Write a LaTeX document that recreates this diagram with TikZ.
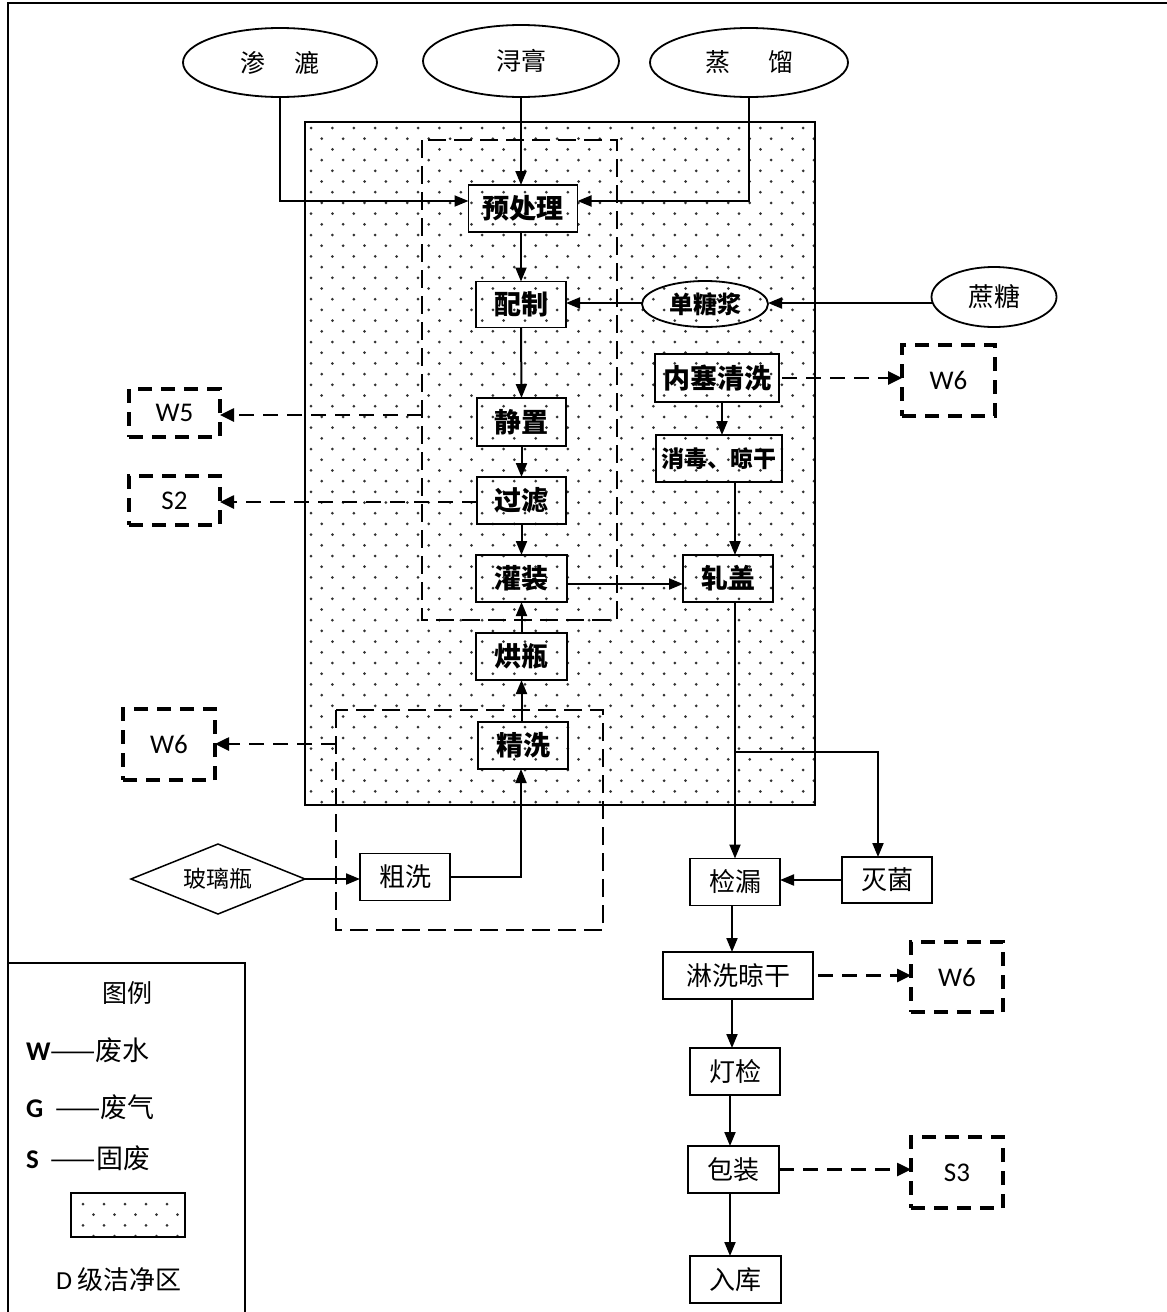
\documentclass[tikz,border=0pt]{standalone}
\usepackage{fontspec}
\setmainfont{Liberation Serif}
\newfontfamily\cjk{Noto Sans CJK SC}
\newfontfamily\lat{Carlito}
\usetikzlibrary{shapes.geometric,arrows.meta}
\tikzset{
  base/.style={inner sep=0pt, outer sep=0pt},
  pbox/.style={base, draw, line width=1.8pt, font=\cjk\bfseries\fontsize{27}{27}\selectfont},
  lbox/.style={base, draw, line width=1.8pt, font=\cjk\fontsize{26}{26}\selectfont},
  ell/.style={base, draw, ellipse, line width=1.8pt, font=\cjk\fontsize{25}{25}\selectfont},
  dbox/.style={base, draw, line width=3.6pt, dash pattern=on 14pt off 9pt, font=\lat\fontsize{27}{27}\selectfont},
  arr/.style={line width=2pt, -{Triangle[length=14pt,width=11pt]}},
  darr/.style={line width=2.6pt, dash pattern=on 15pt off 9pt, -{Triangle[length=14pt,width=13pt]}},
  zone/.style={line width=2.4pt, dash pattern=on 18pt off 8pt},
  dotc/.style={fill=black!80},
  legtext/.style={base, anchor=west, font=\cjk\fontsize{27}{27}\selectfont},
}
\begin{document}
\begin{tikzpicture}[x=1pt,y=-1pt]
\useasboundingbox (0,0) rectangle (1167,1312);
% outer frame
\draw[line width=2.6pt] (8,1312) -- (8,3) -- (1167,3);
% clean zone dots
\begin{scope}
\clip (305,122) rectangle (815,805);
\foreach \j in {0,...,63}{
  \pgfmathsetmacro\myoff{mod(\j,2)*10.7}
  \foreach \i in {0,...,23}{
    \fill[dotc] ({311+\myoff+21.4*\i},{128+10.7*\j}) circle[radius=1.5];
  }
}
\end{scope}
\draw[line width=1.6pt] (305,122) rectangle (815,805);
\draw[zone] (422,140) rectangle (617,620);
\draw[zone] (336,710) rectangle (603,930);

% top ellipses
\node[ell, minimum width=194pt, minimum height=69pt] (sl) at (280,62.5) {\raisebox{-5pt}{渗\hspace{29pt}漉}};
\node[ell, minimum width=196pt, minimum height=72pt] (xg) at (521,61) {浔膏};
\node[ell, minimum width=198pt, minimum height=69pt] (zl) at (749,62.5) {\raisebox{-3pt}{蒸\hspace{38pt}馏}};

% process boxes (clean zone)
\node[pbox, minimum width=109pt, minimum height=47pt] (pre) at (523,208.5) {预处理};
\node[pbox, minimum width=90pt, minimum height=46pt] (pz) at (521,304.5) {配制};
\node[pbox, minimum width=89pt, minimum height=48pt] (jz) at (521.5,422) {静置};
\node[pbox, minimum width=89pt, minimum height=47pt] (gl) at (521.5,500.5) {过滤};
\node[pbox, minimum width=91pt, minimum height=47pt] (gz) at (521.5,578.5) {灌装};
\node[pbox, minimum width=91pt, minimum height=47pt] (hp) at (521.5,656.5) {烘瓶};
\node[pbox, minimum width=90pt, minimum height=47pt] (jx) at (523,745.5) {精洗};
\node[pbox, minimum width=124pt, minimum height=48pt] (nsq) at (717,378) {内塞清洗};
\node[pbox, minimum width=126pt, minimum height=47pt, font=\cjk\bfseries\fontsize{23}{23}\selectfont] (xd) at (719,458.5) {消毒、晾干};
\node[pbox, minimum width=90pt, minimum height=47pt] (zg) at (728,578.5) {轧盖};
\node[ell, font=\cjk\bfseries\fontsize{24}{24}\selectfont, minimum width=126pt, minimum height=46pt] (dtj) at (705,304) {单糖浆};
\node[ell, minimum width=125pt, minimum height=60pt, font=\cjk\fontsize{26}{26}\selectfont] (zt) at (994,297) {蔗糖};

% outside boxes
\node[lbox, minimum width=90pt, minimum height=47pt] (cx) at (405,877) {粗洗};
\node[lbox, minimum width=90pt, minimum height=47pt] (jl) at (735,882) {检漏};
\node[lbox, minimum width=90pt, minimum height=46pt] (mj) at (887,880) {灭菌};
\node[lbox, minimum width=150pt, minimum height=47pt] (lx) at (738,975.5) {淋洗晾干};
\node[lbox, minimum width=90pt, minimum height=47pt] (dj) at (735,1071.5) {灯检};
\node[lbox, minimum width=91pt, minimum height=47pt] (bz) at (733.5,1169.5) {包装};
\node[lbox, minimum width=91pt, minimum height=47pt] (rk) at (735.5,1279.5) {入库};
\node[base, draw, diamond, aspect=2.5, line width=1.5pt, minimum width=174pt, minimum height=70pt, font=\cjk\fontsize{23}{23}\selectfont] (bl) at (218,879) {玻璃瓶};

% waste boxes
\node[dbox, minimum width=93pt, minimum height=71pt] (w6a) at (948.5,380.5) {W6};
\node[dbox, minimum width=91pt, minimum height=48pt] (w5) at (174.5,413) {W5};
\node[dbox, minimum width=91pt, minimum height=49pt] (s2) at (174.5,500.5) {S2};
\node[dbox, minimum width=92pt, minimum height=71pt] (w6b) at (169,744.5) {W6};
\node[dbox, minimum width=92pt, minimum height=70pt] (w6c) at (957,977) {W6};
\node[dbox, minimum width=92pt, minimum height=71pt] (s3) at (957,1172.5) {S3};

% helper coordinates
\coordinate (ya) at (0,201);
\coordinate (yb) at (0,303);
\coordinate (xc) at (521,0);
\coordinate (xn) at (722,0);
\coordinate (xz) at (735,0);
\coordinate (yg) at (0,584);
\coordinate (ybr) at (0,752);
\coordinate (xm) at (878,0);
\coordinate (xl) at (732,0);
\coordinate (xb) at (730,0);
\coordinate (z1) at (422,415);
\coordinate (ys2) at (0,502);
\coordinate (z2) at (336,744);

% solid connectors
\draw[arr] (sl.south) |- (pre.west |- ya);
\draw[arr] (xg.south) -- (xg.south |- pre.north);
\draw[arr] (zl.south) |- (pre.east |- ya);
\draw[arr] (pz.north |- pre.south) -- (pz.north);
\draw[arr] (zt.west |- yb) -- (dtj.east |- yb);
\draw[arr] (dtj.west |- yb) -- (pz.east |- yb);
\draw[arr] (pz.south) -- (jz.north);
\draw[arr] (jz.south) -- (gl.north);
\draw[arr] (gl.south) -- (gz.north);
\draw[arr] (hp.north) -- (gz.south);
\draw[arr] (hp.south |- jx.north) -- (hp.south);
\draw[arr] (cx.east) -| (jx.south -| xc);
\draw[arr] (bl.east) -- (cx.west |- bl.east);
\draw[arr] (nsq.south -| xn) -- (xd.north -| xn);
\draw[arr] (xd.south -| xz) -- (zg.north -| xz);
\draw[arr] (gz.east |- yg) -- (zg.west |- yg);
\draw[arr] (zg.south -| xz) -- (jl.north -| xz);
\draw[arr] (xz |- ybr) -| (mj.north -| xm);
\draw[arr] (mj.west) -- (jl.east |- mj.west);
\draw[arr] (jl.south -| xl) -- (lx.north -| xl);
\draw[arr] (lx.south -| xl) -- (dj.north -| xl);
\draw[arr] (dj.south -| xb) -- (bz.north -| xb);
\draw[arr] (bz.south -| xb) -- (rk.north -| xb);

% dashed connectors
\draw[darr] ([xshift=3pt]nsq.east) -- (w6a.west |- nsq.east);
\draw[darr] (z1) -- (w5.east |- z1);
\draw[darr] (gl.west |- ys2) -- (s2.east |- ys2);
\draw[darr] (z2) -- (w6b.east |- z2);
\draw[darr] ([xshift=5pt]lx.east) -- (w6c.west |- lx.east);
\draw[darr] (bz.east) -- (s3.west |- bz.east);

% legend
\draw[line width=2.2pt] (8,963) -- (245,963) -- (245,1312);
\node[base, font=\cjk\fontsize{25}{25}\selectfont] (lgt) at (127,993) {图例};
\node[legtext] (lw) at (26,1050) {{\lat\bfseries W}——废水};
\node[legtext] (lgg) at (26,1107) {{\lat\bfseries G}\hspace{12pt}——废气};
\node[legtext] (lss) at (26,1158) {{\lat\bfseries S}\hspace{12pt}——固废};
\begin{scope}
\clip (71,1193) rectangle (185,1237);
\foreach \j in {0,...,3}{
  \pgfmathsetmacro\myoff{mod(\j,2)*10.5}
  \foreach \i in {0,...,4}{
    \fill[dotc] ({83+\myoff+21*\i},{1204+10.7*\j}) circle[radius=1.5];
  }
}
\end{scope}
\draw[line width=1.6pt] (71,1193) rectangle (185,1237);
\node[base, font=\cjk\fontsize{26}{26}\selectfont] (ld) at (119,1280) {{\lat D} 级洁净区};
\end{tikzpicture}
\end{document}
